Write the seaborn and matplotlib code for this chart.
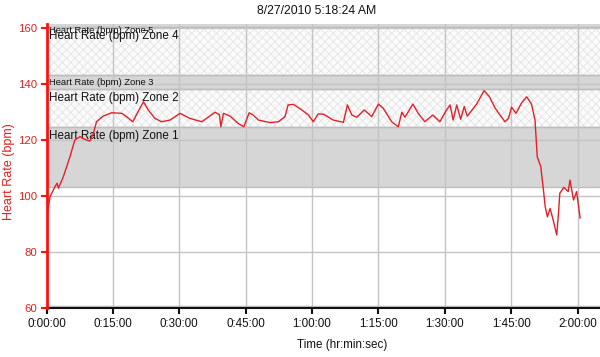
import matplotlib
matplotlib.use("Agg")
import matplotlib.pyplot as plt
from matplotlib import font_manager
import seaborn as sns
import pandas as pd

# ---------------- data ----------------
minutes = [0.0, 0.8, 1.9, 2.4, 2.7, 3.8, 5.3, 6.4, 7.6, 8.7, 9.8, 10.6, 11.3, 12.8, 14.7,
           17.0, 18.1, 19.5, 20.7, 21.9, 23.0, 24.5, 26.0, 27.9, 30.2, 32.4, 35.1, 38.1,
           39.1, 39.4, 40.0, 41.5, 43.3, 44.6, 45.8, 46.7, 47.9, 50.5, 52.4, 53.9, 54.6,
           55.8, 57.7, 59.2, 60.3, 61.4, 62.6, 64.8, 67.1, 68.0, 69.0, 70.1, 71.8, 72.7,
           73.5, 75.0, 76.1, 78.0, 79.5, 80.3, 81.0, 82.8, 84.0, 85.5, 87.3, 88.9, 90.4,
           91.2, 91.9, 92.7, 93.6, 94.4, 95.1, 97.2, 98.9, 100.1, 101.4, 103.6, 104.4,
           105.1, 106.1, 107.4, 108.5, 109.6, 110.4, 110.9, 111.7, 112.3, 112.7, 113.2,
           113.8, 114.5, 115.3, 115.7, 116.0, 116.9, 117.9, 118.3, 119.1, 119.8, 120.6]
heart_rate = [91.4, 99.7, 103.2, 104.5, 102.7, 106.8, 113.9, 119.9, 121.1, 120.1, 119.5,
              122.3, 126.4, 128.4, 129.6, 129.4, 128.2, 126.4, 130.0, 133.5, 130.6, 127.6,
              126.4, 127.0, 129.4, 127.6, 126.4, 129.8, 128.8, 124.6, 129.4, 128.4, 125.8,
              124.6, 129.6, 128.8, 127.0, 126.1, 126.4, 128.2, 132.4, 132.6, 130.6, 128.8,
              126.4, 129.2, 129.1, 127.0, 126.2, 132.4, 128.8, 128.0, 130.6, 129.4, 128.2,
              132.7, 131.2, 126.4, 124.6, 129.8, 128.0, 132.7, 129.4, 126.4, 128.8, 126.4,
              130.6, 132.4, 127.0, 132.4, 127.3, 131.8, 128.4, 132.7, 137.5, 135.3, 131.2,
              126.4, 127.6, 131.6, 129.4, 133.2, 135.3, 132.7, 127.0, 113.9, 110.4, 102.1,
              96.1, 92.5, 95.5, 91.4, 86.0, 93.8, 100.9, 103.0, 101.5, 105.6, 98.5, 101.5,
              92.0]

zone_names = ["Heart Rate (bpm) Zone 1", "Heart Rate (bpm) Zone 2", "Heart Rate (bpm) Zone 3",
              "Heart Rate (bpm) Zone 4", "Heart Rate (bpm) Zone 5"]
zone_low = [103.0, 124.5, 138.2, 143.0, 160.3]
zone_high = [124.5, 138.2, 143.0, 160.3, 175.0]

x_ticks = [0, 15, 30, 45, 60, 75, 90, 105, 120]
x_tick_labels = ["0:00:00", "0:15:00", "0:30:00", "0:45:00", "1:00:00", "1:15:00",
                 "1:30:00", "1:45:00", "2:00:00"]
y_ticks = [60, 80, 100, 120, 140, 160]

title = "8/27/2010 5:18:24 AM"
x_label = "Time (hr:min:sec)"
y_label = "Heart Rate (bpm)"

# ---------------- style ----------------
sns.set_style("white")
names = {f.name for f in font_manager.fontManager.ttflist}
if "Liberation Sans Narrow" in names:
    fam = ["Liberation Sans Narrow", "DejaVu Sans"]
    k = 1.0
else:
    fam = ["Liberation Sans", "DejaVu Sans"]
    k = 0.82
plt.rcParams["font.family"] = fam
plt.rcParams["hatch.linewidth"] = 0.6

fig = plt.figure(figsize=(6.0, 3.57), dpi=100)
ax = fig.add_axes([46.5 / 600, 1 - 308 / 357, 1 - 46.5 / 600, (308 - 24) / 357])

xmax = (600 - 46.5) / 4.425
ymax = 60 + (308 - 24) / 2.805
ax.set_xlim(0, xmax)
ax.set_ylim(60, ymax)

# zones
for i, (lo, hi) in enumerate(zip(zone_low, zone_high)):
    if i % 2 == 0:
        ax.axhspan(lo, hi, facecolor="#d6d6d6", edgecolor="none", zorder=0.5)
    else:
        ax.axhspan(lo, hi, facecolor="#fbfbfb", edgecolor="#e4e4e4", hatch="xxxx",
                   linewidth=0, zorder=0.5)
    for b in (lo, hi):
        ax.axhline(b, color="#bdbdbd", lw=1.0, zorder=0.8)

# grid
for xt in x_ticks:
    ax.axvline(xt, color="#c4c4c4", lw=1.0, zorder=0.9)
for yt in y_ticks[1:]:
    ax.axhline(yt, color="#c4c4c4", lw=1.0, zorder=0.9)

# zone labels
for i, (name, lo, hi) in enumerate(zip(zone_names, zone_low, zone_high)):
    small = (hi - lo) < 8 or hi > ymax
    top = min(hi, ymax)
    off = -2 if hi > ymax else -3
    ax.annotate(name, xy=(0, top), xytext=(2.5, off), textcoords="offset pixels",
                ha="left", va="top", fontsize=(8.2 if small else 10.2) * k,
                color="#111111", zorder=2)

df = pd.DataFrame({"Time": minutes, "HR": heart_rate})
sns.lineplot(data=df, x="Time", y="HR", ax=ax, color="#e3202a", lw=1.0, zorder=3,
             sort=False)

# bottom gray band & spines
ax.axhline(60.4, color="#bdbdbd", lw=2.5, zorder=2.5)
for s in ("top", "right"):
    ax.spines[s].set_visible(False)
ax.spines["left"].set_color("#ff1010")
ax.spines["left"].set_linewidth(2.0)
ax.spines["left"].set_zorder(4)
ax.spines["bottom"].set_color("#111111")
ax.spines["bottom"].set_linewidth(1.5)

ax.set_xticks(x_ticks)
ax.set_xticklabels(x_tick_labels, fontsize=10.2 * k, color="#111111")
ax.set_yticks(y_ticks)
ax.set_yticklabels([str(v) for v in y_ticks], fontsize=10.0 * k, color="#e02020")
ax.tick_params(axis="x", direction="out", length=4, width=1.5, color="#111111", pad=3,
               bottom=True)
ax.tick_params(axis="y", direction="out", length=4, width=1.5, color="#ff1010", pad=3,
               left=True)

ax.set_xlabel(x_label, fontsize=10.2 * k, color="#111111")
ax.xaxis.set_label_coords((342 - 46.5) / 553.5, (308 - 339) / 284)
ax.set_ylabel(y_label, fontsize=11.0 * k, color="#e02020")
ax.yaxis.set_label_coords((15 - 46.5) / 553.5, (308 - 172) / 284)
fig.text(317 / 600, 1 - 11 / 357, title, ha="center", va="center", fontsize=10.8 * k,
         color="#111111")

fig.savefig("out.png", dpi=100)
